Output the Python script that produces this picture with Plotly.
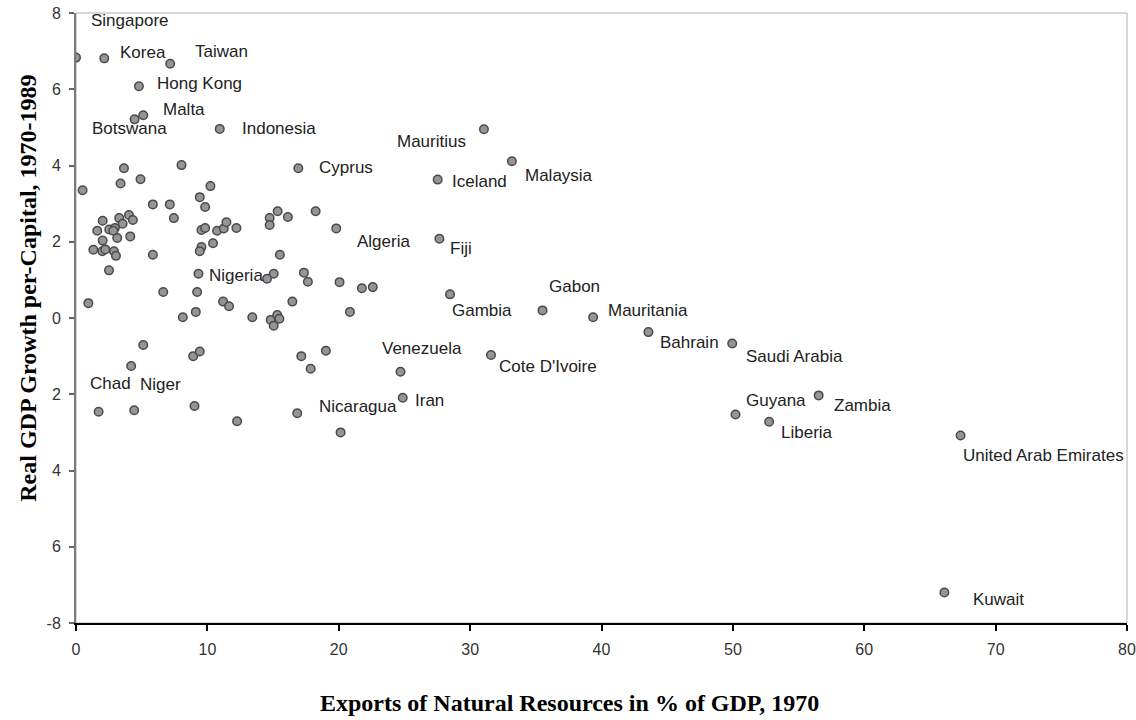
import plotly.graph_objects as go

# ---- data ----
labeled_names = ["Singapore", "Korea", "Taiwan", "Hong Kong", "Malta", "Botswana", "Indonesia",
                 "Cyprus", "Mauritius", "Malaysia", "Iceland", "Algeria", "Fiji", "Nigeria",
                 "Gambia", "Gabon", "Mauritania", "Bahrain", "Saudi Arabia", "Venezuela",
                 "Cote D'Ivoire", "Iran", "Nicaragua", "Guyana", "Zambia", "Liberia",
                 "United Arab Emirates", "Kuwait", "Chad", "Niger"]
labeled_x = [0.0, 2.15, 7.17, 4.79, 5.12, 4.46, 10.94, 16.92, 31.05, 33.18, 27.53, 19.81, 27.66,
             14.54, 28.47, 35.51, 39.36, 43.57, 49.95, 24.70, 31.59, 24.87, 16.84, 50.20, 56.53,
             52.76, 67.33, 66.10, 1.72, 4.43]
labeled_y = [6.83, 6.81, 6.67, 6.08, 5.32, 5.21, 4.96, 3.93, 4.95, 4.11, 3.63, 2.35, 2.08, 1.03,
             0.62, 0.20, 0.02, -0.37, -0.67, -1.41, -0.97, -2.09, -2.50, -2.53, -2.03, -2.72,
             -3.08, -7.20, -2.46, -2.42]

other_x = [3.65, 8.03, 0.50, 3.39, 4.91, 10.23, 9.42, 9.83, 5.85, 7.14, 7.45, 2.03, 3.29, 4.03,
           4.33, 3.55, 1.62, 2.53, 2.96, 2.84, 2.03, 3.14, 4.13, 1.32, 2.00, 2.23, 2.89, 3.04,
           5.85, 2.51, 9.55, 9.83, 10.74, 11.25, 11.45, 12.21, 10.43, 9.55, 9.42, 9.32,
           15.35, 14.74, 16.13, 14.74, 18.24, 15.52, 15.05, 17.35, 17.65, 20.06, 21.76, 22.59,
           0.94, 6.64, 9.22, 11.20, 11.65, 8.13, 9.12, 5.12, 8.92, 9.42, 4.20, 9.02, 12.26,
           16.47, 20.85, 13.42, 14.82, 15.32, 15.48, 15.05, 17.15, 17.86, 19.02, 20.14]
other_y = [3.93, 4.01, 3.35, 3.53, 3.64, 3.46, 3.17, 2.91, 2.98, 2.98, 2.62, 2.55, 2.62, 2.70,
           2.57, 2.47, 2.29, 2.32, 2.36, 2.29, 2.03, 2.10, 2.14, 1.79, 1.75, 1.80, 1.75, 1.63,
           1.66, 1.25, 2.31, 2.36, 2.29, 2.35, 2.51, 2.36, 1.96, 1.86, 1.75, 1.16,
           2.80, 2.62, 2.65, 2.44, 2.80, 1.66, 1.16, 1.19, 0.95, 0.94, 0.78, 0.81,
           0.39, 0.68, 0.68, 0.43, 0.31, 0.02, 0.16, -0.71, -1.00, -0.88, -1.26, -2.31, -2.71,
           0.43, 0.16, 0.02, -0.05, 0.08, -0.02, -0.20, -1.00, -1.33, -0.86, -3.00]

x_ticks = [0, 10, 20, 30, 40, 50, 60, 70, 80]
y_tick_vals = [8, 6, 4, 2, 0, -2, -4, -6, -8]
y_tick_text = ["8", "6", "4", "2", "0", "2", "4", "6", "-8"]

x_title = "Exports of Natural Resources in % of GDP, 1970"
y_title = "Real GDP Growth per-Capital, 1970-1989"

# label placement (pixel offsets from point: anchor, dx, dy with dy downward)
label_offsets = {
    "Singapore": ("left", 13, -37), "Korea": ("left", 14, -6), "Taiwan": ("left", 23, -12),
    "Hong Kong": ("left", 16, -3), "Malta": ("left", 18, -6), "Botswana": ("left", -45, 9),
    "Indonesia": ("left", 20, 0), "Cyprus": ("left", 19, -1), "Mauritius": ("right", -16, 12),
    "Malaysia": ("left", 11, 14), "Iceland": ("left", 12, 2), "Algeria": ("left", 19, 13),
    "Fiji": ("left", 9, 10), "Nigeria": ("right", -2, -3), "Gambia": ("left", 0, 16),
    "Gabon": ("left", 4, -24), "Mauritania": ("left", 13, -7), "Bahrain": ("left", 10, 10),
    "Saudi Arabia": ("left", 12, 13), "Venezuela": ("left", -21, -23),
    "Cote D'Ivoire": ("left", 6, 12), "Iran": ("left", 10, 3), "Nicaragua": ("left", 20, -7),
    "Guyana": ("left", 8, -14), "Zambia": ("left", 13, 10), "Liberia": ("left", 10, 11),
    "United Arab Emirates": ("left", 0, 20), "Kuwait": ("left", 27, 7),
    "Chad": ("left", -11, -28), "Niger": ("left", 4, -26),
}

marker_style = dict(size=8.5, color="#959595", line=dict(color="#4a4a4a", width=1.5))

fig = go.Figure()
fig.add_trace(go.Scatter(x=other_x + labeled_x, y=other_y + labeled_y, mode="markers",
                         marker=marker_style, hoverinfo="x+y", showlegend=False))

label_font = dict(family="Liberation Sans, Arial, sans-serif", size=17, color="#222222")
annotations = []
for name, xv, yv in zip(labeled_names, labeled_x, labeled_y):
    anchor, dx, dy = label_offsets[name]
    annotations.append(dict(x=xv, y=yv, xref="x", yref="y", text=name, showarrow=False,
                            xanchor=anchor, yanchor="middle", xshift=dx, yshift=-dy,
                            font=label_font))

title_font = dict(family="Liberation Serif, Times New Roman, serif", size=24, color="#000000")
annotations.append(dict(x=0.47, y=0, xref="paper", yref="paper", text="<b>%s</b>" % x_title,
                        showarrow=False, xanchor="center", yanchor="middle", yshift=-80,
                        font=title_font))
annotations.append(dict(x=0, y=0.548, xref="paper", yref="paper", text="<b>%s</b>" % y_title,
                        showarrow=False, xanchor="center", yanchor="middle", xshift=-48,
                        textangle=-90, font=title_font))

tick_font = dict(family="Liberation Sans, Arial, sans-serif", size=16, color="#333333")

fig.update_layout(
    width=1136, height=720,
    margin=dict(l=76, r=9, t=13, b=97),
    paper_bgcolor="white", plot_bgcolor="white",
    annotations=annotations,
    shapes=[dict(type="rect", xref="paper", yref="paper", x0=0, y0=0, x1=1, y1=1,
                 line=dict(color="#b0b0b0", width=1), layer="below")],
    xaxis=dict(range=[0, 80], tickvals=x_ticks, ticks="outside", ticklen=6, tickwidth=1.5,
               tickcolor="#000000", showline=True, linecolor="#000000", linewidth=2,
               showgrid=False, zeroline=False, tickfont=tick_font, ticklabelstandoff=5,
               automargin=False),
    yaxis=dict(range=[-8, 8], tickvals=y_tick_vals, ticktext=y_tick_text, ticks="outside",
               ticklen=5, tickwidth=1.5, tickcolor="#666666", showline=True,
               linecolor="#7a7a7a", linewidth=2, showgrid=False, zeroline=False,
               tickfont=tick_font, ticklabelstandoff=5, automargin=False),
)

fig.write_html("out.html")
